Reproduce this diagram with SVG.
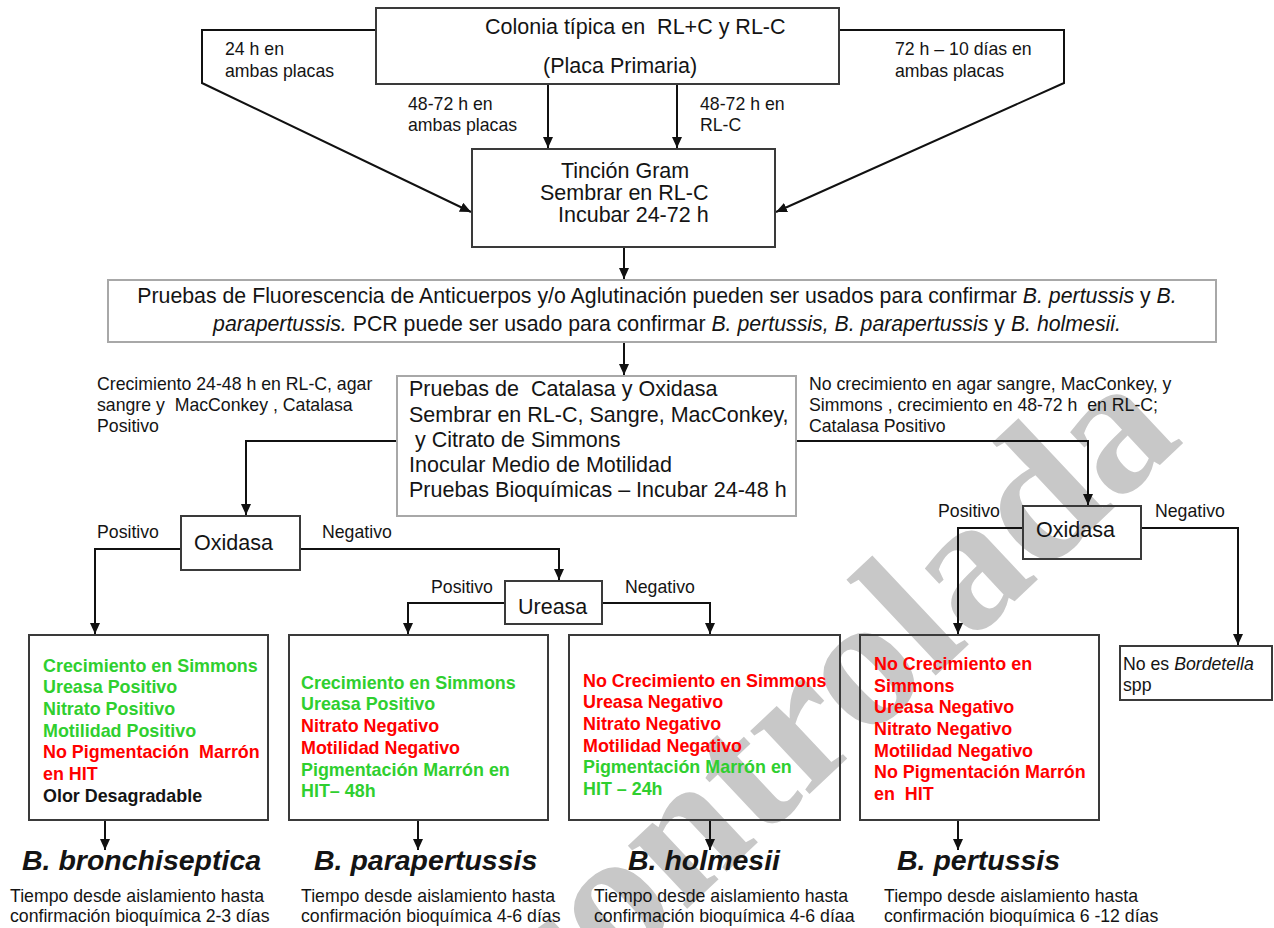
<svg xmlns="http://www.w3.org/2000/svg" width="1274" height="928" viewBox="0 0 1274 928">
<style>
text{font-family:"Liberation Sans",Arial,sans-serif;fill:#141414}
.lbl{font-size:17.7px}
.big{font-size:21.5px}
.mid{font-size:21.3px}
.b{font-size:17.9px;font-weight:bold}
.g{fill:#2fcf2f}
.r{fill:#ff0000}
.k{fill:#141414}
.sp{font-size:28.5px;font-weight:bold;font-style:italic}
.i{font-style:italic}
.box{fill:none;stroke:#3a3a3a;stroke-width:2}
.lbox{fill:none;stroke:#a8a8a8;stroke-width:2}
.wm{font-family:"Liberation Serif","Times New Roman",serif;font-size:178px;font-weight:bold;fill:#c8c8c8}
.c{fill:none;stroke:#111;stroke-width:2}
</style>
<defs>
<marker id="ah" markerUnits="userSpaceOnUse" markerWidth="12" markerHeight="10" refX="11" refY="5" orient="auto">
<path d="M0,0 L11,5 L0,10 z" fill="#111"/>
</marker>
</defs>
<rect width="1274" height="928" fill="#fff"/>
<g transform="translate(680 900) rotate(-2.2) scale(1.06) translate(-680 -900)">
<text class="wm" x="556" y="1022" transform="rotate(-41 556 1022)">controlada</text>
</g>

<g id="connectors" class="c" marker-end="url(#ah)">
<path d="M376,30 H202 V83 L471,212"/>
<path d="M839,30 H1064 V83 L776,212"/>
<path d="M548,84 V148"/>
<path d="M677,84 V148"/>
<path d="M624,247 V279"/>
<path d="M624,342 V375"/>
<path d="M397,441 H246 V515"/>
<path d="M796,441 H1088 V505"/>
<path d="M181,549 H95 V634"/>
<path d="M300,549 H559 V580"/>
<path d="M505,603 H408 V634"/>
<path d="M602,603 H710 V634"/>
<path d="M1023,528 H958 V634"/>
<path d="M1141,528 H1238 V645"/>
<path d="M105,820 V850"/>
<path d="M418,820 V850"/>
<path d="M710,820 V850"/>
<path d="M958,820 V850"/>
</g>

<g id="edge-labels">
<text class="lbl" x="225" y="55">24 h en</text>
<text class="lbl" x="225" y="77">ambas placas</text>
<text class="lbl" x="895" y="55">72 h – 10 días en</text>
<text class="lbl" x="895" y="77">ambas placas</text>
<text class="lbl" x="408" y="110">48-72 h en</text>
<text class="lbl" x="408" y="131">ambas placas</text>
<text class="lbl" x="700" y="110">48-72 h en</text>
<text class="lbl" x="700" y="131">RL-C</text>
<text class="lbl" xml:space="preserve" x="97" y="390">Crecimiento 24-48 h en RL-C, agar</text>
<text class="lbl" xml:space="preserve" x="97" y="411">sangre y  MacConkey , Catalasa</text>
<text class="lbl" x="97" y="432">Positivo</text>
<text class="lbl" xml:space="preserve" x="809" y="390">No crecimiento en agar sangre, MacConkey, y</text>
<text class="lbl" xml:space="preserve" x="809" y="411">Simmons , crecimiento en 48-72 h  en RL-C;</text>
<text class="lbl" x="809" y="432">Catalasa Positivo</text>
<text class="lbl" x="97" y="538">Positivo</text>
<text class="lbl" x="322" y="538">Negativo</text>
<text class="lbl" x="431" y="593">Positivo</text>
<text class="lbl" x="625" y="593">Negativo</text>
<text class="lbl" x="938" y="517">Positivo</text>
<text class="lbl" x="1155" y="517">Negativo</text>
</g>

<g id="n-colonia">
<rect class="box" x="376" y="8" width="463" height="76"/>
<text class="big" xml:space="preserve" x="485" y="34">Colonia típica en  RL+C y RL-C</text>
<text class="big" x="543" y="73">(Placa Primaria)</text>
</g>

<g id="n-tincion">
<rect class="box" x="472" y="149" width="303" height="98"/>
<text class="big" x="561" y="178">Tinción Gram</text>
<text class="big" x="540" y="200">Sembrar en RL-C</text>
<text class="big" x="558" y="222">Incubar 24-72 h</text>
</g>

<g id="n-pruebas-fluorescencia">
<rect class="lbox" x="108" y="280" width="1108" height="62"/>
<text class="mid" text-anchor="middle" x="657" y="303">Pruebas de Fluorescencia de Anticuerpos y/o Aglutinación pueden ser usados para confirmar <tspan class="i">B. pertussis</tspan> y <tspan class="i">B.</tspan></text>
<text class="mid" text-anchor="middle" x="667" y="331"><tspan class="i">parapertussis.</tspan> PCR puede ser usado para confirmar <tspan class="i">B. pertussis, B. parapertussis</tspan> y <tspan class="i">B. holmesii.</tspan></text>
</g>

<g id="n-pruebas-catalasa">
<rect class="lbox" x="397" y="376" width="399" height="140"/>
<text class="big" xml:space="preserve" x="409" y="396">Pruebas de  Catalasa y Oxidasa</text>
<text class="big" x="409" y="422">Sembrar en RL-C, Sangre, MacConkey,</text>
<text class="big" xml:space="preserve" x="409" y="447"> y Citrato de Simmons</text>
<text class="big" x="409" y="472">Inocular Medio de Motilidad</text>
<text class="big" x="409" y="497">Pruebas Bioquímicas – Incubar 24-48 h</text>
</g>

<g id="n-oxidasa-1">
<rect class="box" x="181" y="516" width="119" height="54"/>
<text class="big" x="194" y="550">Oxidasa</text>
</g>

<g id="n-ureasa">
<rect class="box" x="505" y="581" width="97" height="43"/>
<text class="big" x="518" y="614">Ureasa</text>
</g>

<g id="n-oxidasa-2">
<rect class="box" x="1023" y="506" width="118" height="53"/>
<text class="big" x="1036" y="537">Oxidasa</text>
</g>

<g id="n-no-bordetella">
<rect class="box" x="1120" y="646" width="152" height="54"/>
<text class="lbl" x="1123" y="670">No es <tspan class="i">Bordetella</tspan></text>
<text class="lbl" x="1123" y="691">spp</text>
</g>

<g id="n-box1">
<rect class="box" x="29" y="635" width="239" height="185"/>
<text class="b g" x="43" y="672">Crecimiento en Simmons</text>
<text class="b g" x="43" y="693">Ureasa Positivo</text>
<text class="b g" x="43" y="715">Nitrato Positivo</text>
<text class="b g" x="43" y="737">Motilidad Positivo</text>
<text class="b r" xml:space="preserve" x="43" y="758">No Pigmentación  Marrón</text>
<text class="b r" x="43" y="780">en HIT</text>
<text class="b k" x="43" y="802">Olor Desagradable</text>
</g>

<g id="n-box2">
<rect class="box" x="289" y="635" width="259" height="185"/>
<text class="b g" x="301" y="689">Crecimiento en Simmons</text>
<text class="b g" x="301" y="710">Ureasa Positivo</text>
<text class="b r" x="301" y="732">Nitrato Negativo</text>
<text class="b r" x="301" y="754">Motilidad Negativo</text>
<text class="b g" x="301" y="776">Pigmentación Marrón en</text>
<text class="b g" x="301" y="797">HIT– 48h</text>
</g>

<g id="n-box3">
<rect class="box" x="569" y="635" width="271" height="185"/>
<text class="b r" x="583" y="687">No Crecimiento en Simmons</text>
<text class="b r" x="583" y="708">Ureasa Negativo</text>
<text class="b r" x="583" y="730">Nitrato Negativo</text>
<text class="b r" x="583" y="752">Motilidad Negativo</text>
<text class="b g" x="583" y="773">Pigmentación Marrón en</text>
<text class="b g" x="583" y="795">HIT – 24h</text>
</g>

<g id="n-box4">
<rect class="box" x="860" y="635" width="239" height="185"/>
<text class="b r" x="874" y="670">No Crecimiento en</text>
<text class="b r" x="874" y="692">Simmons</text>
<text class="b r" x="874" y="713">Ureasa Negativo</text>
<text class="b r" x="874" y="735">Nitrato Negativo</text>
<text class="b r" x="874" y="757">Motilidad Negativo</text>
<text class="b r" x="874" y="778">No Pigmentación Marrón</text>
<text class="b r" xml:space="preserve" x="874" y="800">en  HIT</text>
</g>

<g id="n-bronchiseptica">
<text class="sp" x="22" y="870">B. bronchiseptica</text>
<text class="lbl" x="10" y="902">Tiempo desde aislamiento hasta</text>
<text class="lbl" x="10" y="922">confirmación bioquímica 2-3 días</text>
</g>
<g id="n-parapertussis">
<text class="sp" x="314" y="870">B. parapertussis</text>
<text class="lbl" x="301" y="902">Tiempo desde aislamiento hasta</text>
<text class="lbl" x="301" y="922">confirmación bioquímica 4-6 días</text>
</g>
<g id="n-holmesii">
<text class="sp" x="628" y="870">B. holmesii</text>
<text class="lbl" x="594" y="902">Tiempo desde aislamiento hasta</text>
<text class="lbl" x="594" y="922">confirmación bioquímica 4-6 díaa</text>
</g>
<g id="n-pertussis">
<text class="sp" x="897" y="870">B. pertussis</text>
<text class="lbl" x="884" y="902">Tiempo desde aislamiento hasta</text>
<text class="lbl" x="884" y="922">confirmación bioquímica 6 -12 días</text>
</g>
</svg>
